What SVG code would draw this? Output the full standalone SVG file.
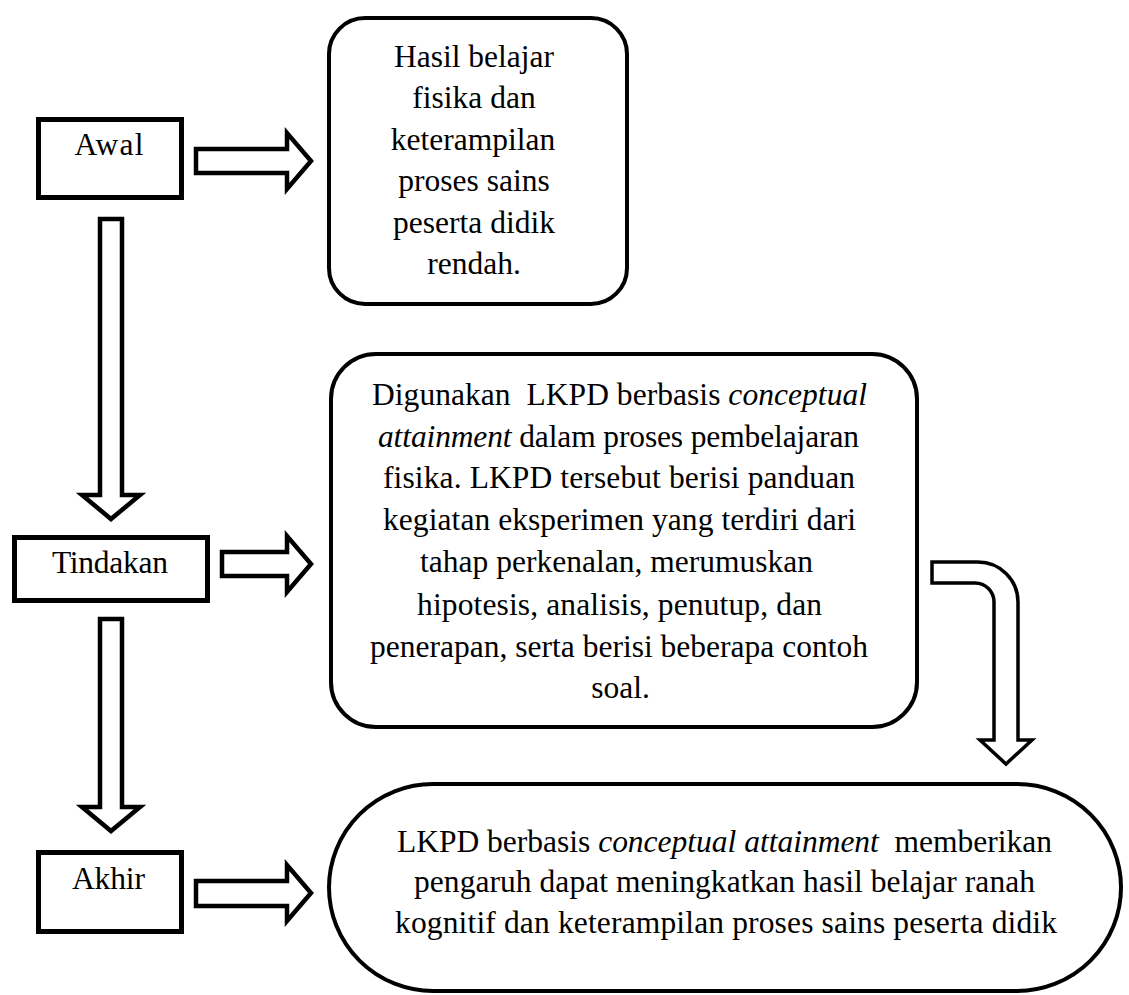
<svg xmlns="http://www.w3.org/2000/svg" width="1129" height="995" viewBox="0 0 1129 995">
<style>
.box{fill:#fff;stroke:#000;stroke-width:5}
.rbox{fill:#fff;stroke:#000;stroke-width:4}
.arr{fill:#fff;stroke:#000;stroke-width:4.5;stroke-linejoin:miter}
.arr2{fill:#fff;stroke:#000;stroke-width:3.5;stroke-linejoin:miter}
text{font-family:"Liberation Serif","Times New Roman",serif;font-size:31.5px;fill:#000;text-anchor:middle}
.i{font-style:italic}
</style>
<rect width="1129" height="995" fill="#fff"/>
<g id="connectors">
<polygon class="arr" points="196,149 287,149 287,133 311,161 287,189 287,173 196,173"/>
<polygon class="arr" points="222,552 287,552 287,536 311,564 287,592 287,576 222,576"/>
<polygon class="arr" points="196,881 287,881 287,865 311,893 287,921 287,906 196,906"/>
<polygon class="arr" points="100,219 122,219 122,495 140,495 111,519 82,495 100,495"/>
<polygon class="arr" points="100,619 122,619 122,807 140,807 111,831 82,807 100,807"/>
<path class="arr2" d="M932,562 L978,562 A40,40 0 0 1 1018,602 L1018,740 L1032,740 L1006,764 L980,740 L994,740 L994,602 A19,19 0 0 0 975,583 L932,583 Z"/>
</g>
<g id="awal">
<rect class="box" x="38.5" y="119.5" width="143" height="78"/>
<text x="109" y="155" textLength="69" lengthAdjust="spacing">Awal</text>
</g>
<g id="tindakan">
<rect class="box" x="14.5" y="537.5" width="193" height="63"/>
<text x="110" y="573" textLength="116" lengthAdjust="spacing">Tindakan</text>
</g>
<g id="akhir">
<rect class="box" x="38.5" y="852.5" width="143" height="79"/>
<text x="108.5" y="889" textLength="73" lengthAdjust="spacing">Akhir</text>
</g>
<g id="hasil">
<rect class="rbox" x="329" y="18" width="298" height="286" rx="36"/>
<text x="474" y="67">Hasil belajar</text>
<text x="474" y="108">fisika dan</text>
<text x="473" y="150">keterampilan</text>
<text x="474" y="191">proses sains</text>
<text x="474" y="233">peserta didik</text>
<text x="474" y="274">rendah.</text>
</g>
<g id="tindakan-desc">
<rect class="rbox" x="331" y="354" width="586" height="373" rx="45"/>
<text x="619.5" y="405" textLength="495" lengthAdjust="spacing" xml:space="preserve">Digunakan  LKPD berbasis <tspan class="i">conceptual</tspan></text>
<text x="618.5" y="447" textLength="481" lengthAdjust="spacing"><tspan class="i">attainment</tspan> dalam proses pembelajaran</text>
<text x="619" y="488" textLength="472" lengthAdjust="spacing">fisika. LKPD tersebut berisi panduan</text>
<text x="619.5" y="530" textLength="473" lengthAdjust="spacing">kegiatan eksperimen yang terdiri dari</text>
<text x="616.5" y="572" textLength="393" lengthAdjust="spacing">tahap perkenalan, merumuskan</text>
<text x="619.5" y="615" textLength="405" lengthAdjust="spacing">hipotesis, analisis, penutup, dan</text>
<text x="619" y="657" textLength="498" lengthAdjust="spacing">penerapan, serta berisi beberapa contoh</text>
<text x="620.5" y="698">soal.</text>
</g>
<g id="akhir-desc">
<rect class="rbox" x="329" y="784" width="792" height="207" rx="104" ry="104"/>
<text x="724.5" y="852" textLength="655" lengthAdjust="spacing" xml:space="preserve">LKPD berbasis <tspan class="i">conceptual attainment</tspan>  memberikan</text>
<text x="724.5" y="892" textLength="621" lengthAdjust="spacing">pengaruh dapat meningkatkan hasil belajar ranah</text>
<text x="726" y="933" textLength="662" lengthAdjust="spacing">kognitif dan keterampilan proses sains peserta didik</text>
</g>
</svg>
